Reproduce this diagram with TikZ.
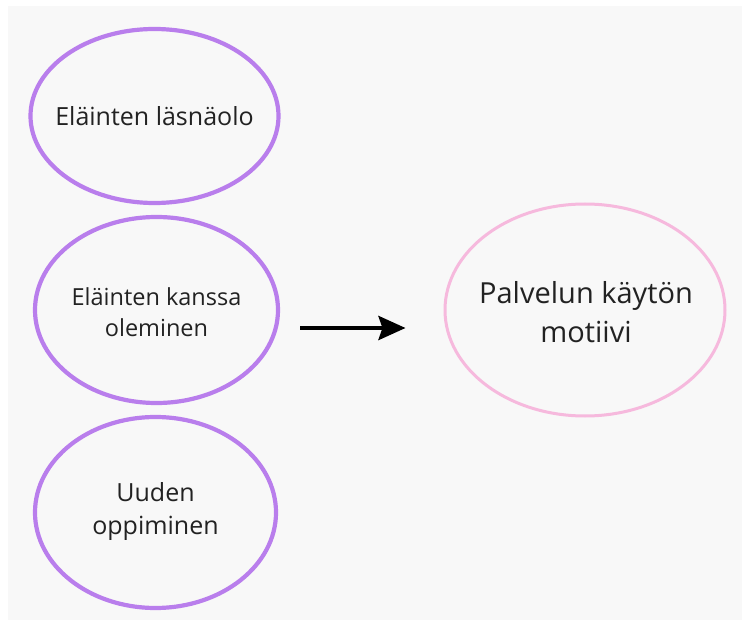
\documentclass[tikz,border=0pt]{standalone}
\usepackage{fontspec}
\setmainfont{Open Sans}
\usetikzlibrary{shapes.geometric,arrows.meta,calc}
\definecolor{bgray}{HTML}{F8F8F8}
\definecolor{lav}{HTML}{B97EEC}
\definecolor{pinkc}{HTML}{F6B9DD}
\definecolor{txt}{HTML}{222222}
\begin{document}
\begin{tikzpicture}[x=1pt,y=-1pt,
  cause/.style={ellipse, draw=lav, line width=4.2pt, inner sep=0pt},
  effect/.style={ellipse, draw=pinkc, line width=3pt, inner sep=0pt},
  smalltxt/.style={text=txt, align=center},
  bigtxt/.style={text=txt, align=center, font=\fontsize{29}{39}\selectfont},
  arr/.style={line width=4.2pt, -{Stealth[length=27pt, width=24pt, inset=4pt]}}]
\useasboundingbox (0,0) rectangle (742,620);
\fill[white] (0,0) rectangle (742,620);
\fill[bgray] (8,6) rectangle (742,620);
\node[cause, minimum width=248pt, minimum height=174pt] (a) at (154.5,116) {};
\node[cause, minimum width=243pt, minimum height=186pt] (b) at (156.5,310) {};
\node[cause, minimum width=241pt, minimum height=191pt] (c) at (155.5,512.5) {};
\node[effect, minimum width=280pt, minimum height=212pt] (m) at (585,310) {};
\node[smalltxt, font=\fontsize{25}{32}\selectfont] (ta) at (a) {Eläinten läsnäolo};
\node[smalltxt, font=\fontsize{23.5}{31}\selectfont] (tb) at ($(b)+(0,2)$) {Eläinten kanssa\\oleminen};
\node[smalltxt, font=\fontsize{25}{33}\selectfont] (tc) at ($(c)+(0,-1)$) {Uuden\\oppiminen};
\node[bigtxt] (tm) at ($(m)+(1,2)$) {Palvelun käytön\\motiivi};
\draw[arr] ($(b.east)+(20,18)$) -- ($(m.west)+(-38,18)$);
\end{tikzpicture}
\end{document}
